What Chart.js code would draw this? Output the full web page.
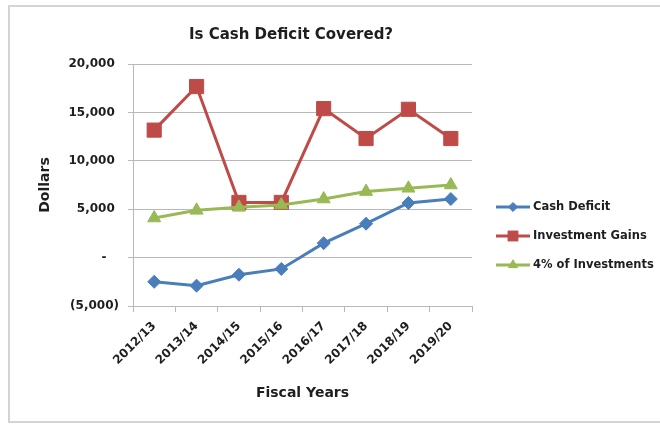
<!DOCTYPE html>
<html>
<head>
<meta charset="utf-8">
<script src="https://cdn.jsdelivr.net/npm/chart.js@4.4.1/dist/chart.umd.min.js"></script>
<style>
  body { margin: 0; background: #fff; }
  #wrap { position: relative; width: 660px; height: 424px; overflow: hidden; }
  #frame { position: absolute; left: 8px; top: 5px; width: 700px; height: 414px; border: 2px solid #d4d4d4; }
  canvas { position: absolute; left: 0; top: 0; }
</style>
</head>
<body>
<div id="wrap">
  <div id="frame"></div>
  <canvas id="cashChart" width="660" height="424"></canvas>
</div>
<script>
// chart data
const fiscalYears = ['2012/13', '2013/14', '2014/15', '2015/16', '2016/17', '2017/18', '2018/19', '2019/20'];
const cashDeficit = [-2500, -2900, -1770, -1170, 1490, 3500, 5640, 6050];
const investmentGains = [13170, 17670, 5700, 5700, 15390, 12300, 15320, 12300];
const fourPctInvestments = [4090, 4880, 5190, 5430, 6050, 6820, 7160, 7500];
const yTicks = [-5000, 0, 5000, 10000, 15000, 20000];

const textColor = '#1e1e1e';
const gridColor = '#b8b8b8';
const fontFamily = "'DejaVu Sans', 'Open Sans', sans-serif";

function dollarLabel(v) {
    if (v === 0) return '-   ';
    const s = Math.abs(v).toLocaleString('en-US');
    return v < 0 ? '(' + s + ')' : s + ' ';
}

// Excel style legend: short line with the marker in the middle
const sideLegend = {
    id: 'sideLegend',
    afterDraw(chart) {
        const ctx = chart.ctx;
        const x0 = chart.chartArea.right + 24;
        chart.data.datasets.forEach((ds, i) => {
            const y = 207 + i * 29;
            ctx.save();
            ctx.strokeStyle = ds.borderColor;
            ctx.fillStyle = ds.backgroundColor;
            ctx.lineWidth = 3;
            ctx.beginPath();
            ctx.moveTo(x0, y);
            ctx.lineTo(x0 + 34, y);
            ctx.stroke();
            ctx.lineWidth = 1;
            Chart.helpers.drawPoint(ctx, {
                pointStyle: ds.pointStyle,
                radius: ds.pointRadius * 0.7,
                rotation: 0,
                borderWidth: 1
            }, x0 + 17, y);
            ctx.fillStyle = textColor;
            ctx.font = 'bold 11.5px ' + fontFamily;
            ctx.textBaseline = 'middle';
            ctx.textAlign = 'left';
            ctx.fillText(ds.label, x0 + 37, y);
            ctx.restore();
        });
    }
};

const ctx = document.getElementById('cashChart').getContext('2d');
const cashChart = new Chart(ctx, {
    type: 'line',
    data: {
        labels: fiscalYears,
        datasets: [{
            label: 'Cash Deficit',
            data: cashDeficit,
            order: 2,
            borderColor: '#4a7ebb',
            backgroundColor: '#4a7ebb',
            borderWidth: 3,
            pointStyle: 'rectRot',
            pointRadius: 6.5,
            pointBorderWidth: 1
        }, {
            label: 'Investment Gains',
            data: investmentGains,
            order: 1,
            borderColor: '#be4b48',
            backgroundColor: '#be4b48',
            borderWidth: 3,
            pointStyle: 'rect',
            pointRadius: 10,
            pointBorderWidth: 1
        }, {
            label: '4% of Investments',
            data: fourPctInvestments,
            order: 0,
            borderColor: '#98b954',
            backgroundColor: '#98b954',
            borderWidth: 3,
            pointStyle: 'triangle',
            pointRadius: 7.5,
            pointBorderWidth: 1
        }]
    },
    options: {
        responsive: false,
        animation: false,
        layout: { padding: { left: 0, right: 78, top: 0, bottom: 0 } },
        plugins: {
            legend: { display: false },
            tooltip: { enabled: false },
            title: {
                display: true,
                text: 'Is Cash Deficit Covered?',
                color: textColor,
                font: { family: fontFamily, size: 15, weight: 'bold' },
                padding: { top: 26, bottom: 20 }
            }
        },
        scales: {
            x: {
                offset: true,
                grid: {
                    offset: true,
                    drawOnChartArea: false,
                    tickLength: 6,
                    color: gridColor
                },
                border: { color: gridColor, width: 1 },
                ticks: {
                    color: textColor,
                    minRotation: 45,
                    maxRotation: 45,
                    padding: 7,
                    font: { family: fontFamily, size: 12, weight: 'bold' }
                },
                title: {
                    display: true,
                    text: 'Fiscal Years',
                    color: textColor,
                    font: { family: fontFamily, size: 14, weight: 'bold' },
                    padding: { top: 0, bottom: 22 }
                },
                afterFit(scale) { scale.height = 118; }
            },
            y: {
                min: -5000,
                max: 20000,
                afterBuildTicks(scale) { scale.ticks = yTicks.map(v => ({ value: v })); },
                grid: { color: gridColor, tickLength: 5 },
                border: { color: gridColor, width: 1 },
                ticks: {
                    color: textColor,
                    padding: 9,
                    font: { family: fontFamily, size: 12, weight: 'bold' },
                    callback: (v) => dollarLabel(v)
                },
                title: {
                    display: true,
                    text: 'Dollars',
                    color: textColor,
                    font: { family: fontFamily, size: 14, weight: 'bold' },
                    padding: { top: 37, bottom: 0 }
                },
                afterFit(scale) { scale.width = 133; }
            },
            // empty right axis keeps room for the legend
            yRight: {
                position: 'right',
                display: true,
                grid: { display: false },
                border: { display: false },
                ticks: { display: false },
                afterFit(scale) { scale.width = 110; }
            }
        }
    },
    plugins: [sideLegend]
});
</script>
</body>
</html>
